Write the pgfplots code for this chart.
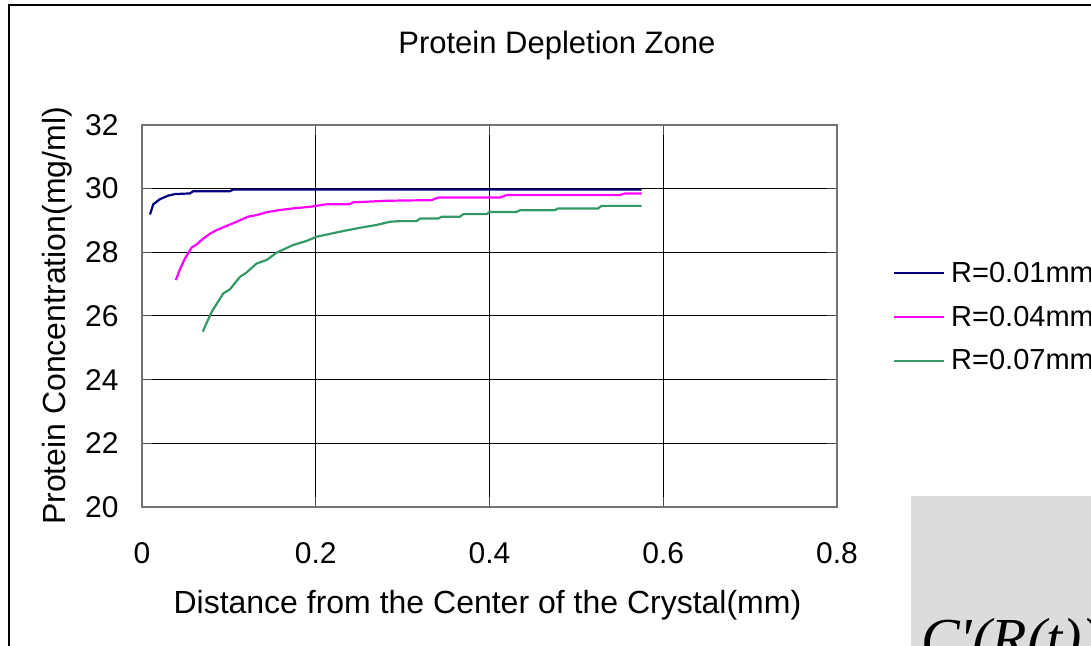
\documentclass[border=0pt]{standalone}
\usepackage{pgfplots}
\pgfplotsset{compat=1.18}
\usepackage{fontspec}
\setmainfont{Liberation Sans}
\newfontfamily\timesfont{Liberation Serif}
\definecolor{navyc}{HTML}{000080}
\definecolor{magc}{HTML}{FF00FF}
\definecolor{seac}{HTML}{339966}
\definecolor{boxgray}{HTML}{DCDCDC}
\begin{document}
\begin{tikzpicture}
\fill[white] (0pt,0pt) rectangle (1091pt,645pt);
\draw[line width=1.3pt, black] (9pt,-10pt) -- (9pt,640pt) -- (1100pt,640pt);
\fill[boxgray] (911pt,149pt) rectangle (1100pt,-10pt);
\node[anchor=base west, inner sep=0pt, font=\timesfont\itshape\fontsize{58}{66}\selectfont] at (921pt,-13pt) {C\textquotesingle(R(t))};
\begin{axis}[
  at={(142pt,138pt)}, anchor=south west,
  width=695pt, height=382pt, scale only axis,
  xmin=0, xmax=0.8, ymin=20, ymax=32,
  xtick={0,0.2,0.4,0.6,0.8},
  ytick={20,22,24,26,28,30,32},
  xticklabels={0,0.2,0.4,0.6,0.8},
  grid=major,
  major grid style={black, line width=1pt},
  axis line style={black!55, line width=1.3pt},
  tick align=inside,
  major tick length=10pt,
  tick style={black!70, line width=1pt},
  /pgf/number format/assume math mode=true,
  tick label style={font=\fontsize{30}{36}\selectfont},
  xticklabel style={yshift=-32pt},
  yticklabel style={xshift=-20pt},
  title={Protein Depletion Zone},
  title style={at={(axis description cs:0.597,1.193)}, anchor=center, font=\fontsize{31}{37}\selectfont, inner sep=0pt},
  xlabel={Distance from the Center of the Crystal(mm)},
  xlabel style={at={(axis description cs:0.497,-0.2565)}, anchor=center, font=\fontsize{32}{38}\selectfont, inner sep=0pt},
  ylabel={Protein Concentration(mg/ml)},
  ylabel style={at={(axis description cs:-0.1223,0.5)}, anchor=center, font=\fontsize{32}{38}\selectfont, inner sep=0pt},
  legend style={at={(axis description cs:1.0806,0.498)}, anchor=west, draw=none, fill=none,
    font=\fontsize{29}{35}\selectfont, inner sep=0pt, row sep=22pt,
    nodes={inner sep=0pt, anchor=west}},
  legend cell align=left,
  legend image code/.code={\draw[#1, line width=2pt] (0pt,0pt) -- (50pt,0pt);},
  every axis plot/.append style={line width=2.2pt, mark=none},
]
\addplot[navyc] coordinates {
(0.0092,29.19) (0.013,29.51) (0.0207,29.67) (0.030,29.78) (0.038,29.83)
(0.055,29.85) (0.059,29.92) (0.101,29.92) (0.105,29.97) (0.575,29.97)};
\addlegendentry{\hspace{6pt}R=0.01mm}
\addplot[magc] coordinates {
(0.039,27.13) (0.0437,27.47) (0.0495,27.81) (0.0572,28.15) (0.063,28.25)
(0.0687,28.39) (0.078,28.58) (0.086,28.70) (0.0975,28.83) (0.109,28.96)
(0.122,29.12) (0.132,29.17) (0.1435,29.26) (0.159,29.33) (0.174,29.38)
(0.193,29.43) (0.2126,29.51) (0.239,29.51) (0.243,29.57) (0.282,29.62)
(0.333,29.64) (0.341,29.72) (0.412,29.72) (0.42,29.80) (0.55,29.80)
(0.556,29.85) (0.575,29.85)};
\addlegendentry{\hspace{6pt}R=0.04mm}
\addplot[seac] coordinates {
(0.0699,25.51) (0.0802,26.13) (0.0936,26.71) (0.1013,26.84) (0.1128,27.23)
(0.1205,27.37) (0.132,27.65) (0.1435,27.76) (0.155,27.99) (0.174,28.23)
(0.1896,28.36) (0.201,28.49) (0.2164,28.58) (0.2317,28.67) (0.2547,28.79)
(0.270,28.86) (0.2855,28.96) (0.297,28.98) (0.316,28.98) (0.32,29.06)
(0.341,29.06) (0.345,29.12) (0.366,29.12) (0.37,29.20) (0.397,29.20)
(0.40,29.27) (0.431,29.27) (0.435,29.32) (0.475,29.32) (0.479,29.38)
(0.525,29.38) (0.529,29.46) (0.575,29.46)};
\addlegendentry{\hspace{6pt}R=0.07mm}
\end{axis}
\pgfresetboundingbox
\useasboundingbox (0pt,0pt) rectangle (1091pt,645pt);
\end{tikzpicture}
\end{document}
